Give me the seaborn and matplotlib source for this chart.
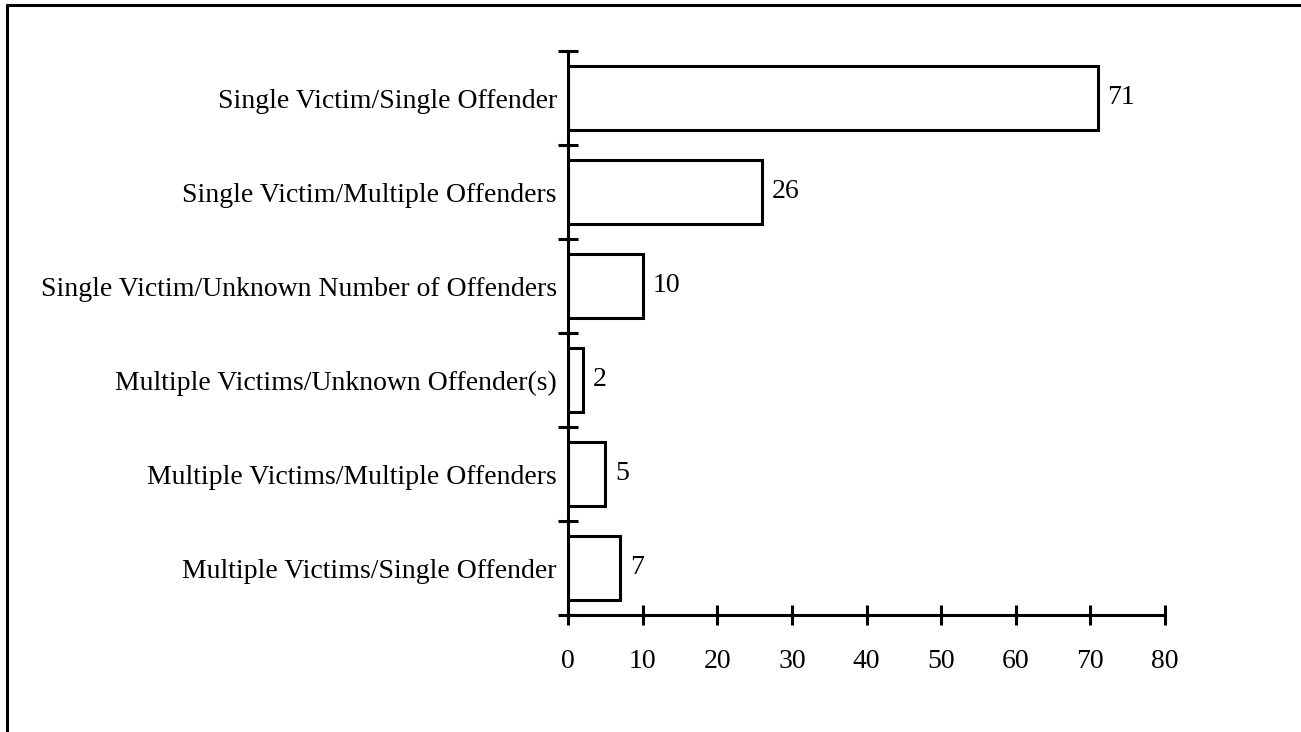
import matplotlib
matplotlib.use("Agg")
import matplotlib.pyplot as plt
import seaborn as sns
import numpy as np
from matplotlib.lines import Line2D

categories = [
    "Single Victim/Single Offender",
    "Single Victim/Multiple Offenders",
    "Single Victim/Unknown Number of Offenders",
    "Multiple Victims/Unknown Offender(s)",
    "Multiple Victims/Multiple Offenders",
    "Multiple Victims/Single Offender",
]
values = [71, 26, 10, 2, 5, 7]
xticks = [0, 10, 20, 30, 40, 50, 60, 70, 80]

sns.set_theme(style="white")
plt.rcParams["font.family"] = ["Liberation Serif", "DejaVu Serif"]
FS = 20

fig = plt.figure(figsize=(13.01, 7.32), dpi=100)
ax = fig.add_axes([568 / 1301, 1 - 615 / 732, (1165 - 568) / 1301, (615 - 51) / 732])

sns.barplot(x=values, y=categories, orient="h", color="white", saturation=1,
            edgecolor="black", linewidth=2.2, width=0.68, ax=ax)

ax.set_xlim(0, 80)
ax.set_ylim(len(categories) - 0.5, -0.5)
ax.set_xticks(xticks)
ax.set_xticklabels([str(t) for t in xticks], fontsize=FS)
bounds = np.arange(-0.5, len(categories), 1.0)
ax.set_yticks(bounds)
ax.set_yticklabels([""] * len(bounds))
ax.set_yticks(np.arange(len(categories)), minor=True)
ax.set_yticklabels(categories, minor=True, fontsize=FS)
ax.tick_params(axis="both", which="major", direction="inout", length=14.4,
               width=2.2, color="black", labelcolor="black", bottom=True, left=True)
ax.tick_params(axis="x", pad=17)
ax.tick_params(axis="y", which="minor", length=0, pad=8, left=True, labelleft=True,
               labelcolor="black")
ax.set_xlabel("")
ax.set_ylabel("")

for s in ["top", "right"]:
    ax.spines[s].set_visible(False)
for s in ["left", "bottom"]:
    ax.spines[s].set_linewidth(2.2)
    ax.spines[s].set_color("black")

for c in ax.containers:
    ax.bar_label(c, labels=[str(v) for v in values], padding=7, fontsize=FS, color="black")

fig.add_artist(Line2D([7 / 1301, 7 / 1301], [0, 1 - 5 / 732], transform=fig.transFigure,
                      color="black", linewidth=2.2))
fig.add_artist(Line2D([7 / 1301, 1], [1 - 5 / 732, 1 - 5 / 732], transform=fig.transFigure,
                      color="black", linewidth=2.2))

fig.savefig("out.png", dpi=100, facecolor="white")
